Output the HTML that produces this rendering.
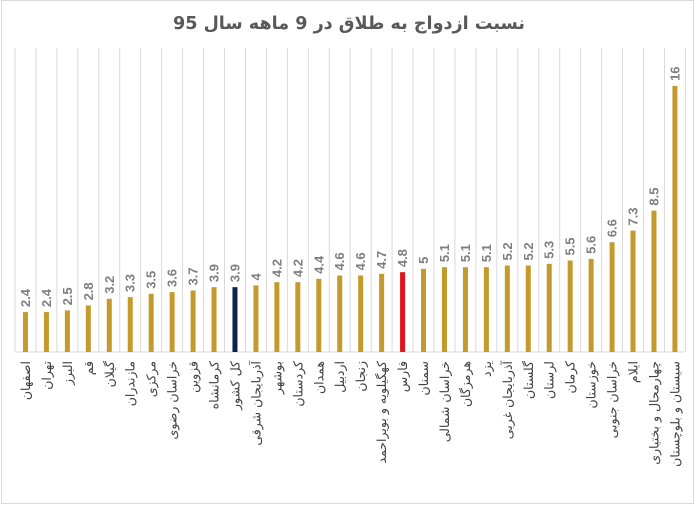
<!DOCTYPE html>
<html><head><meta charset="utf-8"><style>
html,body{margin:0;padding:0;background:#fff;}
svg{display:block;}
</style></head><body>
<svg width="695" height="505" xmlns="http://www.w3.org/2000/svg">
<rect x="1.5" y="0.5" width="692" height="503" fill="#fff" stroke="#d9d9d9"/>
<text x="173" y="29" textLength="352" lengthAdjust="spacingAndGlyphs" font-family="'DejaVu Sans',sans-serif" font-weight="bold" font-size="18" fill="#595959">نسبت ازدواج به طلاق در 9 ماهه سال 95</text>
<g id="c"></g>
</svg>
<script>
var d=[["اصفهان",2.4],["تهران",2.4],["البرز",2.5],["قم",2.8],["گیلان",3.2],["مازندران",3.3],["مرکزی",3.5],["خراسان رضوی",3.6],["قزوین",3.7],["کرمانشاه",3.9],["کل کشور",3.9],["آذربایجان شرقی",4],["بوشهر",4.2],["کردستان",4.2],["همدان",4.4],["اردبیل",4.6],["زنجان",4.6],["کهگیلویه و بویراحمد",4.7],["فارس",4.8],["سمنان",5],["خراسان شمالی",5.1],["هرمزگان",5.1],["یزد",5.1],["آذربایجان غربی",5.2],["گلستان",5.2],["لرستان",5.3],["کرمان",5.5],["خوزستان",5.6],["خراسان جنوبی",6.6],["ایلام",7.3],["چهارمحال و بختیاری",8.5],["سیستان و بلوچستان",16]];
var s="",sp=20.95,x0=15,base=352,k=16.63;
for(var i=0;i<=32;i++){var gx=x0+i*sp;s+='<line x1="'+gx+'" y1="48" x2="'+gx+'" y2="'+base+'" stroke="#d9d9d9" stroke-width="1"/>';}
s+='<line x1="'+x0+'" y1="'+base+'" x2="'+(x0+32*sp)+'" y2="'+base+'" stroke="#d9d9d9"/>';
d.forEach(function(e,i){var cx=x0+sp*(i+0.5),h=e[1]*k,c=i==10?"#0b2252":(i==18?"#e0141b":"#c49a2c");
s+='<rect x="'+(cx-2.5)+'" y="'+(base-h)+'" width="5" height="'+h+'" fill="'+c+'"/>';
s+='<text transform="translate('+(cx+4.5)+','+(base-h-5)+') rotate(-90)" font-family="Liberation Sans,sans-serif" font-weight="bold" font-size="13" fill="#7f7f7f">'+e[1]+'</text>';
s+='<text transform="translate('+(cx+4.5)+',361) rotate(-90)" text-anchor="end" font-family="DejaVu Sans,sans-serif" font-size="12.5" fill="#404040">'+e[0]+'</text>';});
document.getElementById("c").innerHTML=s;
</script>
</body></html>
